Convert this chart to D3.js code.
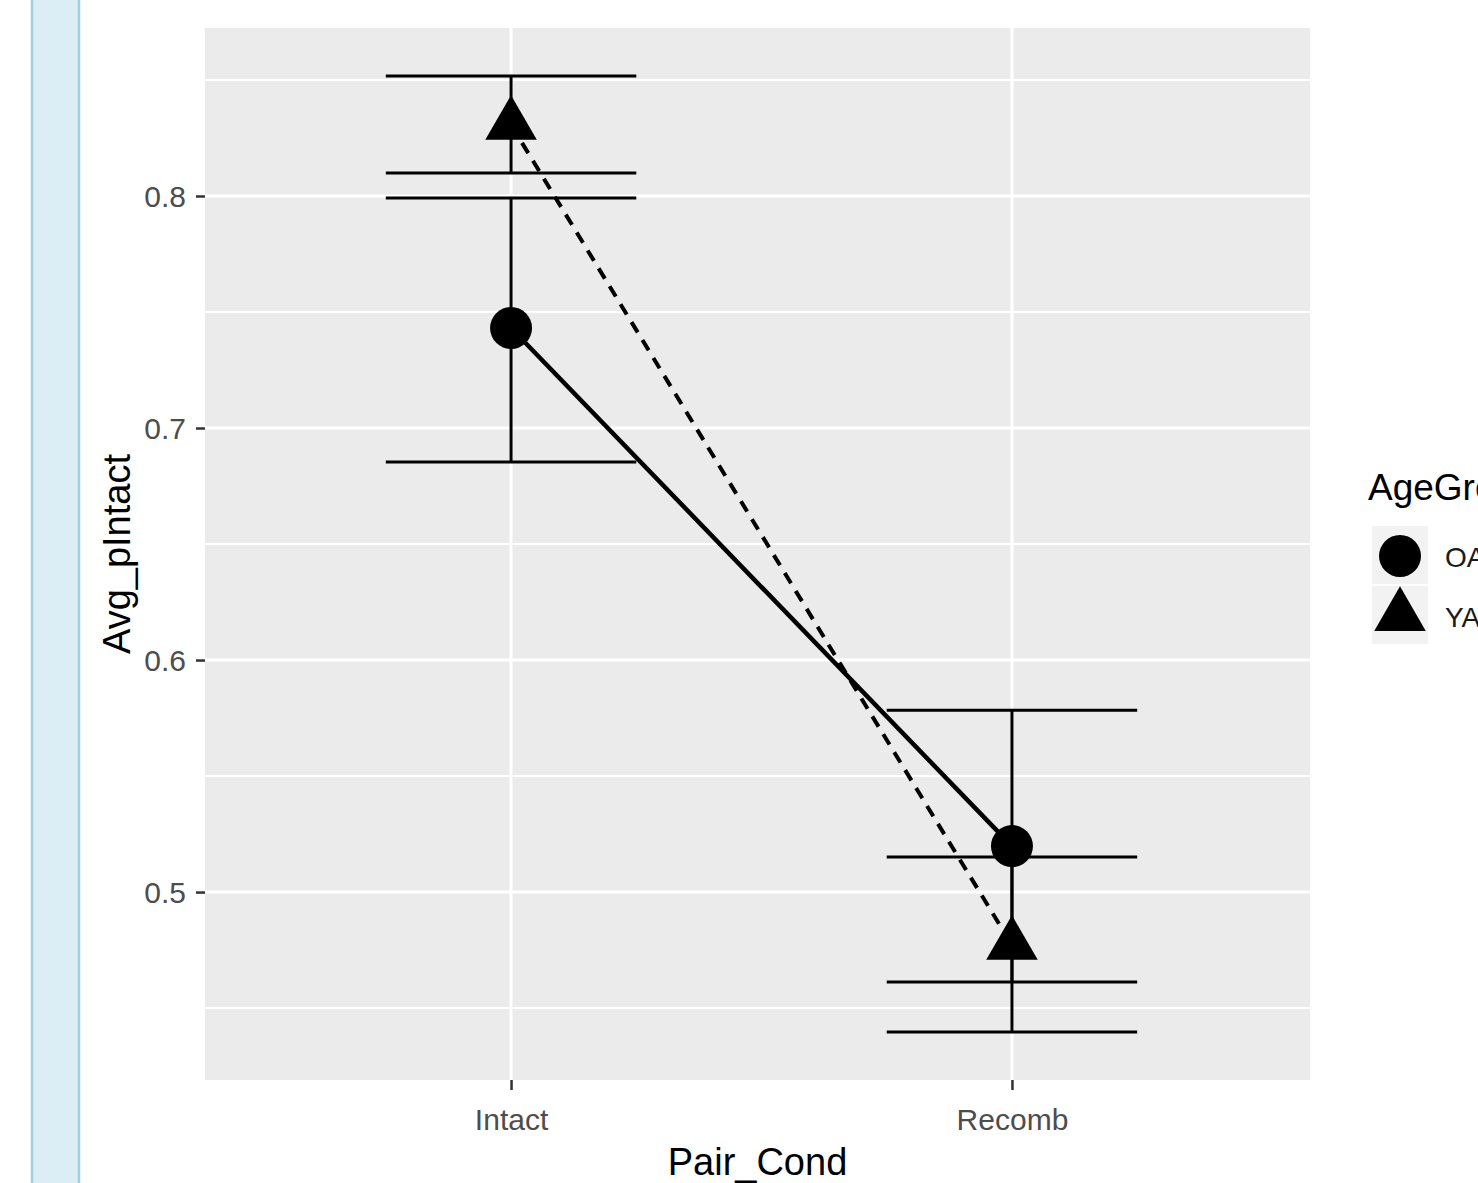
<!DOCTYPE html>
<html>
<head>
<meta charset="utf-8">
<script src="https://cdn.jsdelivr.net/npm/d3@7"></script>
<style>
  body { margin: 0; background: #fff; }
  svg { display: block; font-family: "Liberation Sans", Arial, sans-serif; }
</style>
</head>
<body>
<svg id="chart" width="1478" height="1183"></svg>
<script>
/* data */
var categories = ["Intact", "Recomb"];
var groups = ["OA", "YA"];
var oaMean  = [0.7431, 0.5198];
var oaUpper = [0.7991, 0.5784];
var oaLower = [0.6853, 0.4612];
var yaMean  = [0.8306, 0.4772];
var yaUpper = [0.8517, 0.5151];
var yaLower = [0.8099, 0.4397];
var yMajor = [0.5, 0.6, 0.7, 0.8];
var yMinor = [0.45, 0.55, 0.65, 0.75, 0.85];

var series = [
  {name: groups[0], mean: oaMean, upper: oaUpper, lower: oaLower, shape: "circle", dash: null},
  {name: groups[1], mean: yaMean, upper: yaUpper, lower: yaLower, shape: "triangle", dash: "12,9"}
];

var svg = d3.select("#chart");

// window-ish bar on the left
svg.append("rect").attr("x", 32).attr("y", -2).attr("width", 47).attr("height", 1190)
    .attr("fill", "#dbeef5").attr("stroke", "#9fd0df").attr("stroke-width", 2.5);

var panel = {left: 205, right: 1310, top: 28, bottom: 1080};

var x = d3.scaleLinear().domain([-0.611, 1.595]).range([panel.left, panel.right]);
var y = d3.scaleLinear().domain([0.419, 0.8724]).range([panel.bottom, panel.top]);

svg.append("rect")
    .attr("x", panel.left).attr("y", panel.top)
    .attr("width", panel.right - panel.left).attr("height", panel.bottom - panel.top)
    .attr("fill", "#ebebeb");

var grid = svg.append("g");
grid.selectAll("line.minor").data(yMinor).enter().append("line")
    .attr("x1", panel.left).attr("x2", panel.right)
    .attr("y1", function(d){ return y(d); }).attr("y2", function(d){ return y(d); })
    .attr("stroke", "#fff").attr("stroke-width", 2);
grid.selectAll("line.major").data(yMajor).enter().append("line")
    .attr("x1", panel.left).attr("x2", panel.right)
    .attr("y1", function(d){ return y(d); }).attr("y2", function(d){ return y(d); })
    .attr("stroke", "#fff").attr("stroke-width", 3);
grid.selectAll("line.vx").data(categories).enter().append("line")
    .attr("x1", function(d,i){ return x(i); }).attr("x2", function(d,i){ return x(i); })
    .attr("y1", panel.top).attr("y2", panel.bottom)
    .attr("stroke", "#fff").attr("stroke-width", 3);

// axes
var yAxis = d3.axisLeft(y).tickValues(yMajor).tickSize(9).tickPadding(10)
    .tickFormat(d3.format(".1f"));
var gy = svg.append("g").attr("transform", "translate(" + panel.left + ",0)").call(yAxis);
var xAxis = d3.axisBottom(x).tickValues([0, 1]).tickSize(10).tickPadding(8)
    .tickFormat(function(i){ return categories[i]; });
var gx = svg.append("g").attr("transform", "translate(0," + panel.bottom + ")").call(xAxis);
[gx, gy].forEach(function(g){
  g.select(".domain").remove();
  g.selectAll(".tick line").attr("stroke", "#333").attr("stroke-width", 2.5);
  g.selectAll(".tick text").attr("fill", "#4d4d4d").style("font-size", "30px")
      .style("font-family", "Liberation Sans, Arial, sans-serif");
});
gy.selectAll(".tick text").attr("dy", "0.36em");
gx.selectAll(".tick text").attr("dy", "1.05em");

svg.append("text").attr("x", (panel.left + panel.right) / 2).attr("y", 1175)
    .attr("text-anchor", "middle").style("font-size", "38px").attr("fill", "#000")
    .text("Pair_Cond");
svg.append("text").attr("transform", "translate(130," + ((panel.top + panel.bottom) / 2) + ") rotate(-90)")
    .attr("text-anchor", "middle").style("font-size", "38px").attr("fill", "#000")
    .text("Avg_pIntact");

// error bars
var halfW = (x(1) - x(0)) * 0.25;
var eb = svg.append("g").attr("stroke", "#000").attr("stroke-width", 3).attr("fill", "none");
series.forEach(function(s){
  categories.forEach(function(c, i){
    var cx = x(i);
    eb.append("line").attr("x1", cx).attr("x2", cx)
        .attr("y1", y(s.upper[i])).attr("y2", y(s.lower[i]));
    [s.upper[i], s.lower[i]].forEach(function(v){
      eb.append("line").attr("x1", cx - halfW).attr("x2", cx + halfW)
          .attr("y1", y(v)).attr("y2", y(v));
    });
  });
});

// connecting lines
var line = d3.line().x(function(d,i){ return x(i); }).y(function(d){ return y(d); });
series.forEach(function(s){
  svg.append("path").datum(s.mean).attr("d", line)
      .attr("fill", "none").attr("stroke", "#000")
      .attr("stroke-width", s.dash ? 4 : 4.5)
      .attr("stroke-dasharray", s.dash);
});

// points
var sym = {
  circle: d3.symbol().type(d3.symbolCircle).size(Math.PI * 21 * 21),
  triangle: d3.symbol().type(d3.symbolTriangle).size(1150)
};
series.forEach(function(s){
  svg.selectAll(null).data(s.mean).enter().append("path")
      .attr("d", sym[s.shape]())
      .attr("transform", function(d,i){ return "translate(" + x(i) + "," + y(d) + ")"; })
      .attr("fill", "#000");
});

// legend (cut off at the right edge, as in the original screenshot)
var lg = svg.append("g").attr("transform", "translate(1368,0)");
lg.append("text").attr("x", 0).attr("y", 500).style("font-size", "37px").attr("fill", "#000")
    .text("AgeGroup");
series.forEach(function(s, i){
  var ky = 526 + i * 60;
  lg.append("rect").attr("x", 4).attr("y", ky).attr("width", 56).attr("height", 58)
      .attr("fill", "#f2f2f2");
  lg.append("path").attr("d", sym[s.shape]())
      .attr("transform", "translate(32," + (ky + 30) + ")").attr("fill", "#000");
  lg.append("text").attr("x", 77).attr("y", ky + 41).style("font-size", "28px")
      .attr("fill", "#1a1a1a").text(s.name);
});
</script>
</body>
</html>
